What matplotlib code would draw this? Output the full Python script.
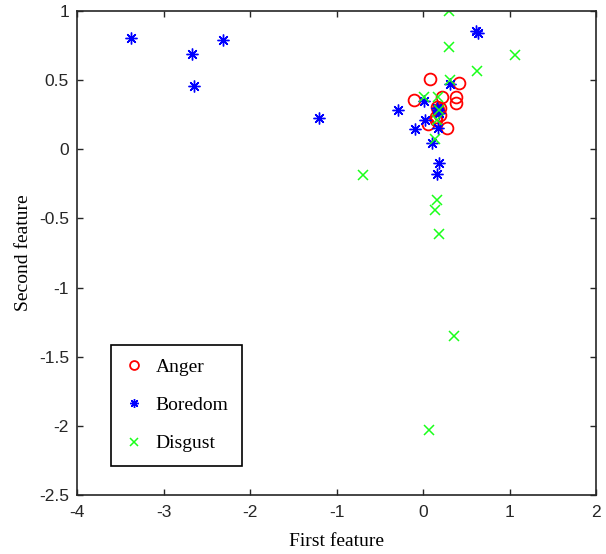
import matplotlib
matplotlib.use("Agg")
import matplotlib.pyplot as plt

anger_x = [0.085, 0.42, -0.107, 0.224, 0.378, 0.386, 0.16, 0.17, 0.20, 0.15, 0.15, 0.058, 0.28, 0.19]
anger_y = [0.507, 0.476, 0.356, 0.375, 0.375, 0.332, 0.307, 0.28, 0.25, 0.23, 0.21, 0.18, 0.15, 0.30]

boredom_x = [-3.38, -2.67, -2.65, -2.32, -1.20, 0.61, 0.63, 0.31, 0.008, -0.29, 0.175, 0.18, 0.16,
             0.02, -0.09, 0.175, 0.10, 0.185, 0.16]
boredom_y = [0.80, 0.69, 0.457, 0.79, 0.228, 0.853, 0.84, 0.47, 0.35, 0.28, 0.283, 0.26, 0.30,
             0.21, 0.146, 0.151, 0.043, -0.10, -0.18]

disgust_x = [0.30, 0.30, 1.06, 0.62, 0.31, 0.008, 0.175, 0.186, 0.16, 0.135, 0.155, 0.14, 0.18,
             -0.69, 0.36, 0.066]
disgust_y = [1.0, 0.74, 0.68, 0.567, 0.50, 0.38, 0.38, 0.283, 0.21, 0.074, -0.37, -0.44, -0.61,
             -0.185, -1.35, -2.03]

labels = ["Anger", "Boredom", "Disgust"]
xticks = [-4, -3, -2, -1, 0, 1, 2]
yticks = [-2.5, -2, -1.5, -1, -0.5, 0, 0.5, 1]

fig = plt.figure(figsize=(6.06, 5.54), dpi=100)
ax = fig.add_axes([0.1276, 0.1056, 0.8559, 0.8751])

ax.plot(anger_x, anger_y, 'o', ls='none', mfc='none', mec=(1, 0, 0), ms=8.5, mew=1.3,
        label=labels[0])
ax.plot(boredom_x, boredom_y, marker=(8, 2, 0), ls='none', color=(0, 0, 1), ms=8.5, mew=1.0,
        label=labels[1])
ax.plot(disgust_x, disgust_y, 'x', ls='none', color=(0.1, 1, 0.1), ms=7, mew=1.1,
        label=labels[2])

ax.set_xlim(-4, 2)
ax.set_ylim(-2.5, 1)
ax.set_xticks(xticks)
ax.set_yticks(yticks)
ax.set_xticklabels([f"{t:g}" for t in xticks], fontfamily="Liberation Sans", fontsize=12.5)
ax.set_yticklabels([f"{t:g}" for t in yticks], fontfamily="Liberation Sans", fontsize=12.5)
ax.tick_params(axis='x', pad=7)
ax.tick_params(axis='y', pad=6)
ax.tick_params(direction='in', top=True, right=True, length=4, width=1, colors='#262626',
               labelcolor='#262626')
for s in ax.spines.values():
    s.set_linewidth(1.2)
    s.set_color('#262626')

ax.set_xlabel("First feature", fontfamily="Liberation Serif", fontsize=14, labelpad=9)
ax.set_ylabel("Second feature", fontfamily="Liberation Serif", fontsize=14, labelpad=5)

leg = ax.legend(loc='lower left', bbox_to_anchor=(0.065, 0.061), borderaxespad=0,
                prop={'family': 'Liberation Serif', 'size': 14}, fancybox=False,
                edgecolor='black', framealpha=1, markerscale=0.75, handlelength=1.0,
                handletextpad=0.6, labelspacing=1.05, borderpad=0.7)
leg.get_frame().set_linewidth(1.2)

fig.savefig("out.png", dpi=100)
